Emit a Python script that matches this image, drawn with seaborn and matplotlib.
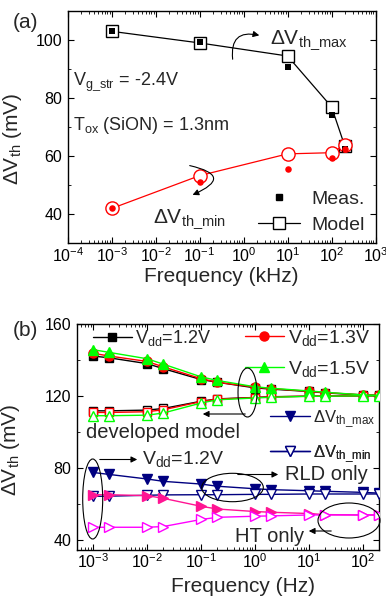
import numpy as np
import pandas as pd
import matplotlib
matplotlib.use("Agg")
import matplotlib.pyplot as plt
import matplotlib.ticker as mticker
from matplotlib.lines import Line2D
from matplotlib.patches import Ellipse
import seaborn as sns

# ---------------- data: panel (a) ----------------
freq_a = [1e-3, 1e-1, 10, 100, 200]
max_model = [103.0, 99.0, 94.5, 77.0, 63.5]
max_meas = [103.0, 99.3, 90.8, 74.2, 62.5]
min_model = [42.0, 53.3, 60.8, 61.2, 63.8]
min_meas = [42.0, 51.2, 55.5, 59.3, 62.6]

# ---------------- data: panel (b) ----------------
freq_b = [1e-3, 2e-3, 1e-2, 2e-2, 0.1, 0.2, 1, 2, 10, 20, 100, 200]
vdd12_max = [142.0, 141.0, 137.8, 135.0, 129.0, 127.5, 124.4, 123.7, 122.4, 121.6, 120.5, 120.3]
vdd13_max = [143.5, 142.0, 139.0, 136.0, 129.5, 127.5, 124.8, 124.0, 122.5, 121.8, 120.5, 120.3]
vdd15_max = [145.5, 144.0, 140.5, 137.5, 130.5, 128.5, 125.0, 124.2, 122.7, 122.0, 120.5, 120.3]
vdd12_min = [111.7, 111.7, 112.1, 113.0, 117.0, 118.3, 119.1, 119.5, 119.8, 119.8, 120.0, 120.0]
vdd13_min = [110.8, 110.8, 111.2, 112.3, 116.8, 118.2, 119.0, 119.4, 119.8, 119.9, 120.0, 120.0]
vdd15_min = [109.0, 109.0, 109.3, 110.5, 116.0, 117.8, 118.8, 119.2, 119.7, 119.8, 120.0, 120.0]
rld_max = [77.6, 76.5, 74.0, 72.7, 71.2, 70.0, 68.6, 68.1, 67.5, 67.2, 66.6, 66.2]
rld_min = [64.4, 64.5, 65.0, 65.2, 65.3, 65.3, 65.5, 65.5, 65.7, 65.7, 65.7, 65.7]
ht_max = [65.3, 65.3, 64.8, 63.3, 58.9, 57.4, 56.0, 55.6, 54.9, 54.3, 54.1, 54.1]
ht_min = [47.3, 47.3, 47.3, 47.7, 51.6, 52.8, 53.4, 53.6, 54.1, 54.1, 54.1, 54.1]

sns.set_theme(style="ticks")
plt.rcParams["font.family"] = ["Liberation Sans", "DejaVu Sans"]
plt.rcParams["mathtext.fontset"] = "custom"
plt.rcParams["mathtext.rm"] = "Liberation Sans"
plt.rcParams["mathtext.it"] = "Liberation Sans:italic"
plt.rcParams["mathtext.bf"] = "Liberation Sans:bold"
plt.rcParams["axes.linewidth"] = 1.0

W, H = 386, 596
fig = plt.figure(figsize=(W / 100, H / 100), dpi=100)
fig.patch.set_facecolor("white")


def FX(x):
    return x / W


def FY(y):
    return 1 - y / H


def style_axes(ax):
    ax.set_xscale("log")
    ax.tick_params(axis="both", which="both", direction="in", top=True, right=True,
                   colors="black", labelsize=11.5, pad=4)
    ax.tick_params(axis="x", which="both", pad=2)
    ax.tick_params(which="major", length=4, width=0.8)
    ax.tick_params(which="minor", length=2, width=0.6)
    for s in ax.spines.values():
        s.set_color("black")
        s.set_linewidth(1.0)
    ax.set_facecolor("white")
    ax.grid(False)


# ======================= panel (a) =======================
ax1 = fig.add_axes([FX(67.7), FY(243.3), FX(375.5) - FX(67.7), FY(11) - FY(243.3)])
style_axes(ax1)

sns.lineplot(x=freq_a, y=max_model, ax=ax1, color="black", lw=0.9, marker="s",
             markersize=8.5, markerfacecolor="white", markeredgecolor="black",
             markeredgewidth=1.0, zorder=3)
sns.lineplot(x=freq_a, y=min_model, ax=ax1, color="red", lw=0.9, marker="o",
             markersize=9.5, markerfacecolor="white", markeredgecolor="red",
             markeredgewidth=1.0, zorder=3)
sns.scatterplot(x=freq_a, y=max_meas, ax=ax1, color="black", marker="s", s=14,
                edgecolor="black", linewidth=0, zorder=4)
sns.scatterplot(x=freq_a, y=min_meas, ax=ax1, color="red", marker="o", s=22,
                edgecolor="red", linewidth=0, zorder=4)

ax1.set_xlim(1e-4, 1e3)
ax1.set_ylim(30, 110)
ax1.xaxis.set_major_locator(mticker.LogLocator(base=10, numticks=20))
ax1.xaxis.set_minor_locator(mticker.LogLocator(base=10, subs=np.arange(2, 10), numticks=20))
ax1.xaxis.set_minor_formatter(mticker.NullFormatter())
ax1.set_yticks([40, 60, 80, 100])
ax1.yaxis.set_minor_locator(mticker.MultipleLocator(10))
ax1.set_xlabel("Frequency (kHz)", fontsize=15)
ax1.set_ylabel(r"ΔV$_{\rm th}$ (mV)", fontsize=15)
ax1.xaxis.set_label_coords(0.5, -0.1)
ax1.yaxis.set_label_coords(-0.142, 0.45)
ax1.xaxis.label.set_va("top")

fig.text(FX(13), FY(22), "(a)", fontsize=15, va="center", ha="left")
fig.text(FX(270), FY(40), r"ΔV$_{\rm th\_max}$", fontsize=15, va="center", ha="left")
fig.text(FX(73), FY(82), r"V$_{\rm g\_str}$ = -2.4V", fontsize=13, va="center", ha="left")
fig.text(FX(73), FY(125), r"T$_{\rm ox}$ (SiON) = 1.3nm", fontsize=13, va="center", ha="left")
fig.text(FX(153), FY(219), r"ΔV$_{\rm th\_min}$", fontsize=15, va="center", ha="left")

fig.patches.append(matplotlib.patches.FancyArrowPatch(
    (FX(233), FY(62)), (FX(262), FY(36)), transform=fig.transFigure,
    connectionstyle="arc3,rad=-0.75", arrowstyle="-|>", mutation_scale=9,
    color="black", lw=0.8))
fig.patches.append(matplotlib.patches.FancyArrowPatch(
    (FX(187), FY(165)), (FX(190), FY(196)), transform=fig.transFigure,
    connectionstyle="arc3,rad=-1.6", arrowstyle="-|>", mutation_scale=9,
    color="black", lw=0.8))

h_meas = Line2D([], [], linestyle="none", marker="s", markersize=4,
                color="black")
h_model = Line2D([], [], color="black", lw=0.9, marker="s", markersize=8.5,
                 markerfacecolor="white", markeredgecolor="black")
legA = ax1.legend([h_meas, h_model], ["Meas.", "Model"], loc="center left",
                  bbox_to_anchor=((258 - 67.7) / 307.8, (243.3 - 212) / 232.3),
                  frameon=False, fontsize=14, handlelength=2.15, handletextpad=0.6,
                  labelspacing=0.45, borderpad=0, borderaxespad=0)

# ======================= panel (b) =======================
ax2 = fig.add_axes([FX(77), FY(549.5), FX(379) - FX(77), FY(323.5) - FY(549.5)])
style_axes(ax2)

series_b = [
    (vdd12_max, "black", "s", "black", 6),
    (vdd12_min, "black", "s", "white", 6),
    (vdd13_max, "red", "o", "red", 6.5),
    (vdd13_min, "red", "s", "white", 6),
    (vdd15_max, "#00FF00", "^", "#00FF00", 7.5),
    (vdd15_min, "#00FF00", "^", "white", 7.5),
    (rld_max, "#000080", "v", "#000080", 7.5),
    (rld_min, "#000080", "v", "white", 7.5),
    (ht_max, "#FF1493", ">", "#FF1493", 7.5),
    (ht_min, "#FF00FF", ">", "white", 7.5),
]
for vals, col, mk, fc, ms in series_b:
    sns.lineplot(x=freq_b, y=vals, ax=ax2, color=col, lw=1.0, marker=mk,
                 markersize=ms, markerfacecolor=fc, markeredgecolor=col,
                 markeredgewidth=1.0, zorder=3)

ax2.set_xlim(5e-4, 200)
ax2.set_ylim(35, 160)
ax2.xaxis.set_major_locator(mticker.LogLocator(base=10, numticks=20))
ax2.xaxis.set_minor_locator(mticker.LogLocator(base=10, subs=np.arange(2, 10), numticks=20))
ax2.xaxis.set_minor_formatter(mticker.NullFormatter())
ax2.set_yticks([40, 80, 120, 160])
ax2.yaxis.set_minor_locator(mticker.MultipleLocator(20))
ax2.set_xlabel("Frequency (Hz)", fontsize=15)
ax2.set_ylabel(r"ΔV$_{\rm th}$ (mV)", fontsize=15)
ax2.xaxis.set_label_coords(0.55, -0.122)
ax2.xaxis.label.set_va("top")
ax2.yaxis.set_label_coords(-0.182, 0.44)

fig.text(FX(13), FY(331), "(b)", fontsize=15, va="center", ha="left")


def leg_entry(ax, handle, label, x, y, fs, hl):
    lg = ax.legend([handle], [label], loc="center left",
                   bbox_to_anchor=((x - 77) / 302, (549.5 - y) / 226),
                   frameon=False, fontsize=fs, handlelength=hl, handletextpad=0.2,
                   borderpad=0, borderaxespad=0)
    ax.add_artist(lg)


leg_entry(ax2, Line2D([], [], color="black", lw=1, marker="s", markersize=6),
          r"V$_{\rm dd}$=1.2V", 93, 338, 13, 2.15)
leg_entry(ax2, Line2D([], [], color="red", lw=1, marker="o", markersize=6.5),
          r"V$_{\rm dd}$=1.3V", 245, 338, 14, 2.0)
leg_entry(ax2, Line2D([], [], color="#00FF00", lw=1, marker="^", markersize=7.5),
          r"V$_{\rm dd}$=1.5V", 245, 369, 14, 2.0)
leg_entry(ax2, Line2D([], [], color="#000080", lw=1, marker="v", markersize=7.5),
          r"ΔV$_{\rm th\_max}$", 270, 419, 12, 2.4)
leg_entry(ax2, Line2D([], [], color="#000080", lw=1, marker="v", markersize=7.5,
                      markerfacecolor="white"),
          r"ΔV$_{\rm th\_min}$", 270, 454, 12, 2.4)

fig.text(FX(86), FY(432), "developed model", fontsize=14.5, va="center", ha="left")
fig.text(FX(142), FY(459), r"V$_{\rm dd}$=1.2V", fontsize=14, va="center", ha="left")
fig.text(FX(285), FY(475), "RLD only", fontsize=14.5, va="center", ha="left")
fig.text(FX(235), FY(537), "HT only", fontsize=14.5, va="center", ha="left")


def ellipse(cx, cy, w, h):
    e = Ellipse((FX(cx), FY(cy)), w / W, h / H, transform=fig.transFigure,
                fill=False, edgecolor="black", lw=0.8)
    fig.patches.append(e)


def arrow(x0, y0, x1, y1):
    fig.patches.append(matplotlib.patches.FancyArrowPatch(
        (FX(x0), FY(y0)), (FX(x1), FY(y1)), transform=fig.transFigure,
        arrowstyle="-|>", mutation_scale=9, color="black", lw=0.8))


ellipse(247.5, 392.5, 19, 49)
ellipse(92.7, 499, 20, 80)
ellipse(232.5, 487.5, 61.6, 28.4)
ellipse(349, 520.5, 62, 35)
arrow(248, 414, 200, 414)
arrow(97, 459.5, 140, 459.5)
arrow(235, 474.5, 281, 474.5)
arrow(334, 531, 306, 531)

fig.savefig("out.png", dpi=100)
